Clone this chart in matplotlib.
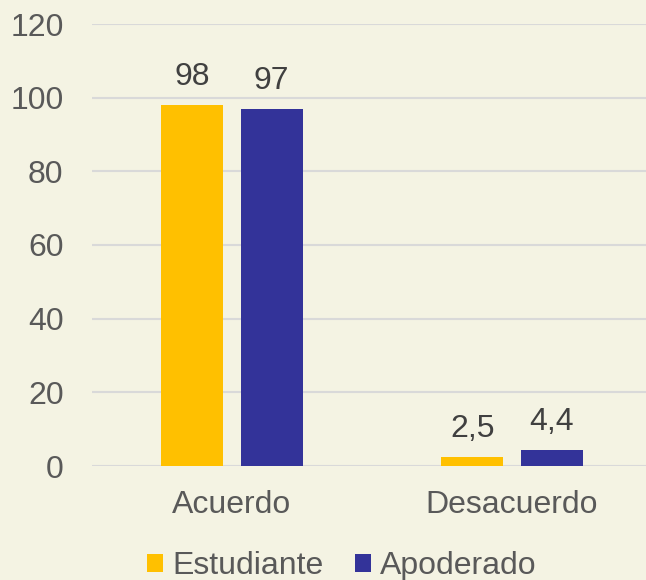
import matplotlib
matplotlib.use("Agg")
import matplotlib.pyplot as plt
import numpy as np

categories = ["Acuerdo", "Desacuerdo"]
series_names = ["Estudiante", "Apoderado"]
estudiante = [98, 2.5]
apoderado = [97, 4.4]
estudiante_labels = ["98", "2,5"]
apoderado_labels = ["97", "4,4"]
yticks = [0, 20, 40, 60, 80, 100, 120]

plt.rcParams['font.family'] = ['Liberation Sans', 'DejaVu Sans']
bg = "#F4F3E3"
fig = plt.figure(figsize=(6.46, 5.80), dpi=100, facecolor=bg)
ax = fig.add_axes([92/646, 114/580, 1 - 92/646, (466-24)/580])
ax.set_facecolor(bg)

x = np.arange(len(categories))
w = 0.222
off = 0.142
b1 = ax.bar(x - off, estudiante, w, color="#FFC000", label=series_names[0], zorder=3)
b2 = ax.bar(x + off, apoderado, w, color="#333399", label=series_names[1], zorder=3)

for bars, labs in ((b1, estudiante_labels), (b2, apoderado_labels)):
    for r, t in zip(bars, labs):
        ax.annotate(t, (r.get_x() + r.get_width()/2, r.get_height()),
                    xytext=(0, 9.5), textcoords="offset points",
                    ha="center", va="bottom", fontsize=23, color="#404040")

ax.set_ylim(0, 120)
ax.set_xlim(-0.5, 1.479)
ax.set_yticks(yticks)
ax.set_xticks(x)
ax.set_xticklabels(categories)
ax.tick_params(axis="y", length=0, pad=20.5, labelsize=23, labelcolor="#595959")
ax.tick_params(axis="x", length=0, pad=17, labelsize=23, labelcolor="#595959")
ax.grid(axis="y", color="#D9D9D9", linewidth=1.5, zorder=0)
for s in ax.spines.values():
    s.set_visible(False)

leg = fig.legend(handles=[b1, b2], labels=series_names, loc="center",
                 bbox_to_anchor=(342/646, 1 - 566/580), ncol=2, frameon=False,
                 fontsize=23, handlelength=0.5, handleheight=0.5,
                 handletextpad=0.28, columnspacing=1.0, labelcolor="#595959")

fig.savefig("out.png", dpi=100, facecolor=bg)
